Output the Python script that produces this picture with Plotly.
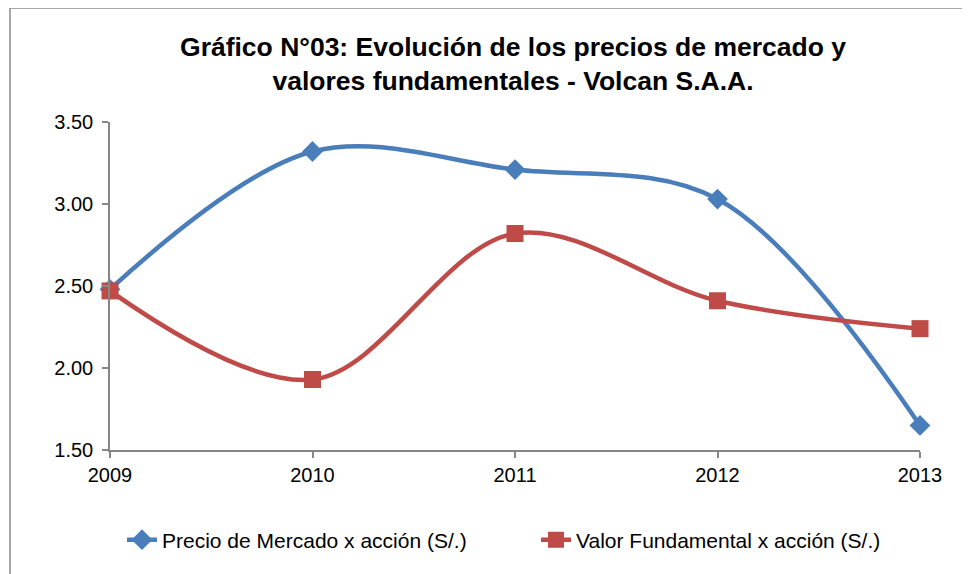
import plotly.graph_objects as go

years = [2009, 2010, 2011, 2012, 2013]
precio_mercado = [2.48, 3.32, 3.21, 3.03, 1.65]
valor_fundamental = [2.47, 1.93, 2.82, 2.41, 2.24]
y_ticks = [1.5, 2.0, 2.5, 3.0, 3.5]
y_ticklabels = ["1.50", "2.00", "2.50", "3.00", "3.50"]

title_text = "Gráfico N°03: Evolución de los precios de mercado y<br>valores fundamentales - Volcan S.A.A."
name_precio = "Precio de Mercado x acción (S/.)"
name_valor = "Valor Fundamental x acción (S/.)"

BLUE = "#4A7EBB"
RED = "#BE4B48"
FONT = "Liberation Sans, Arial, sans-serif"

fig = go.Figure()
fig.add_trace(go.Scatter(
    x=years, y=precio_mercado, name=name_precio, mode="lines+markers",
    line=dict(color=BLUE, width=4.5, shape="spline", smoothing=1.0),
    marker=dict(symbol="diamond", size=16, color=BLUE),
    cliponaxis=False,
))
fig.add_trace(go.Scatter(
    x=years, y=valor_fundamental, name=name_valor, mode="lines+markers",
    line=dict(color=RED, width=4.5, shape="spline", smoothing=1.0),
    marker=dict(symbol="square", size=17, color=RED),
    cliponaxis=False,
))

# page has an 8px body margin; screen coordinates = figure coordinates + 8
OFF = 8
W, H = 970, 574
PL, PR, PT, PB = 110, 920, 122, 450  # plot area on screen
L, R, T, B = PL - OFF, W + OFF - PR, PT - OFF, H + OFF - PB
pw, ph = PR - PL, PB - PT

def px_x(sx):
    return (sx - PL) / pw

def px_y(sy):
    return (PB - sy) / ph

fig.update_layout(
    width=W, height=H,
    margin=dict(l=L, r=R, t=T, b=B, autoexpand=False),
    paper_bgcolor="white", plot_bgcolor="white",
    font=dict(family=FONT, size=20, color="#000000"),
    title=dict(text=title_text, x=px_x(513), xref="paper", xanchor="center",
               y=1 - (56 - OFF) / H, yref="container", yanchor="middle",
               font=dict(family=FONT, size=26.5, color="#000000", weight="bold")),
    showlegend=True,
    legend=dict(orientation="h", x=px_x(950), xanchor="right", xref="paper",
                y=px_y(540), yanchor="middle", font=dict(size=21),
                entrywidth=369, entrywidthmode="pixels",
                tracegroupgap=0),
    xaxis=dict(range=[2009, 2013], tickmode="array", tickvals=years,
               ticktext=[str(y) for y in years],
               showgrid=False, zeroline=False, showline=True,
               linecolor="#868686", linewidth=1.5,
               ticks="outside", ticklen=6, tickcolor="#868686", tickwidth=1.5,
               tickfont=dict(size=20), fixedrange=True),
    yaxis=dict(range=[1.5, 3.5], tickmode="array", tickvals=y_ticks,
               ticktext=y_ticklabels, showgrid=False, zeroline=False,
               showline=True, linecolor="#868686", linewidth=1.5,
               ticks="outside", ticklen=6, tickcolor="#868686", tickwidth=1.5,
               ticklabelstandoff=5,
               tickfont=dict(size=20), fixedrange=True),
    shapes=[dict(type="rect", xref="paper", yref="paper",
                 x0=px_x(10), x1=px_x(1100), y0=px_y(700), y1=px_y(8),
                 line=dict(color="#8C8C8C", width=1.5), fillcolor="rgba(0,0,0,0)",
                 layer="below")],
)

fig.write_html("out.html")
